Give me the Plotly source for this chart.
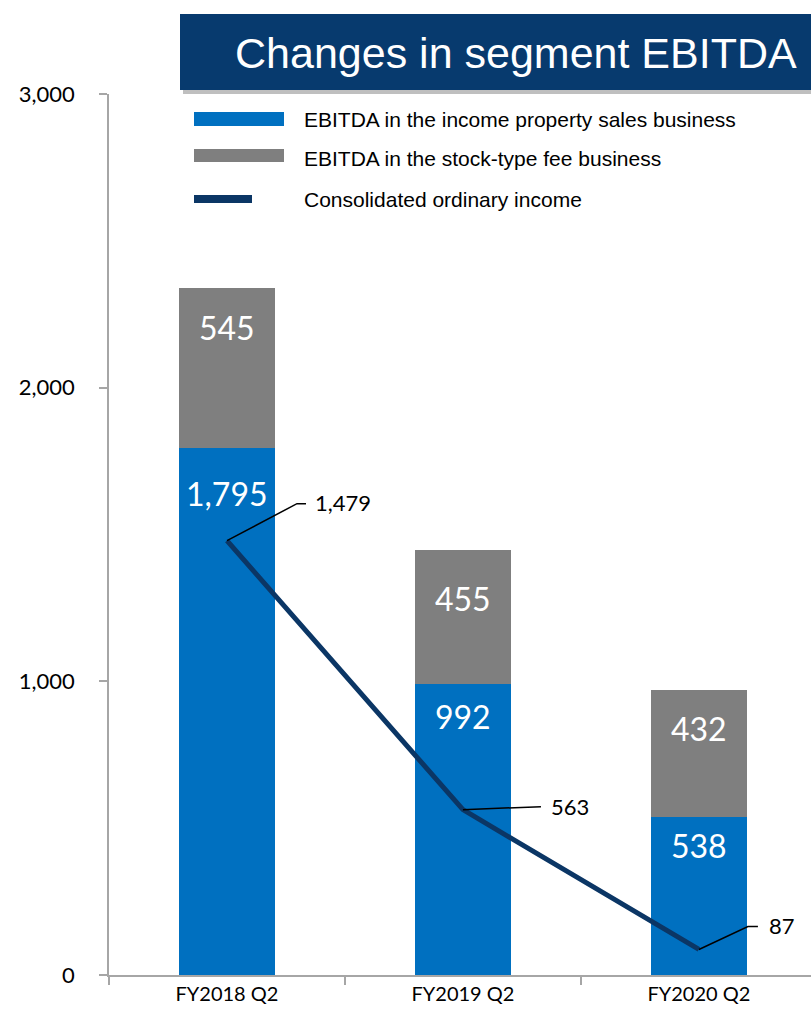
import plotly.graph_objects as go

categories = ["FY2018 Q2", "FY2019 Q2", "FY2020 Q2"]
property_sales = [1795, 992, 538]
stock_fee = [545, 455, 432]
ordinary_income = [1479, 563, 87]
y_ticks = [0, 1000, 2000, 3000]
y_tick_labels = ["0", "1,000", "2,000", "3,000"]
legend_names = ["EBITDA in the income property sales business",
                "EBITDA in the stock-type fee business",
                "Consolidated ordinary income"]
title_text = "Changes in segment EBITDA"

BLUE = "#0070c0"
GRAY = "#7f7f7f"
NAVY = "#0b3665"
TITLE_BG = "#073a6e"

W, H = 811, 1015
ML, MT, MB, MR = 109, 94, 40, 0
PW = W - ML - MR
PH = H - MT - MB


def px(x):
    return (x - ML) / PW


def py(y):
    return (H - MB - y) / PH


def fmt(v):
    return f"{v:,}"


fig = go.Figure()
fig.add_trace(go.Bar(x=categories, y=property_sales, marker_color=BLUE,
                     marker_line_width=0, width=0.41, name=legend_names[0]))
fig.add_trace(go.Bar(x=categories, y=stock_fee, marker_color=GRAY,
                     marker_line_width=0, width=0.41, name=legend_names[1]))
fig.add_trace(go.Scatter(x=categories, y=ordinary_income, mode="lines",
                         line=dict(color=NAVY, width=5), name=legend_names[2]))

annotations = []
shapes = []

# bar value labels (near top of each segment)
blue_shift = [-46, -33, -28]
gray_shift = [-40, -48, -38]
for i, c in enumerate(categories):
    annotations.append(dict(x=c, y=property_sales[i], text=fmt(property_sales[i]),
                            showarrow=False, yshift=blue_shift[i],
                            font=dict(family="Lato", size=32, color="white")))
    annotations.append(dict(x=c, y=property_sales[i] + stock_fee[i], text=fmt(stock_fee[i]),
                            showarrow=False, yshift=gray_shift[i],
                            font=dict(family="Lato", size=32, color="white")))

# leader lines + labels for line values
leaders = [
    ("M0,0 L70,37 L79,37", 86, 38),
    ("M0,0 L78,3", 86, 3),
    ("M0,0 L49,23 L59,23", 68, 24),
]
for i, c in enumerate(categories):
    path, xs, ys = leaders[i]
    shapes.append(dict(type="path", xref="x", yref="y", xsizemode="pixel", ysizemode="pixel",
                       xanchor=c, yanchor=ordinary_income[i], path=path,
                       line=dict(color="black", width=1.5)))
    annotations.append(dict(x=c, y=ordinary_income[i], text=fmt(ordinary_income[i]),
                            showarrow=False, xanchor="left", xshift=xs, yshift=ys,
                            font=dict(family="Lato", size=22, color="black")))

# title box with shadow
shapes.append(dict(type="rect", xref="paper", yref="paper",
                   x0=px(183), x1=px(815), y0=py(94), y1=py(17),
                   fillcolor="rgba(0,0,0,0.25)", line_width=0, layer="above"))
shapes.append(dict(type="rect", xref="paper", yref="paper",
                   x0=px(180), x1=px(815), y0=py(90), y1=py(14),
                   fillcolor=TITLE_BG, line_width=0, layer="above"))
annotations.append(dict(xref="paper", yref="paper", x=px(516), y=py(53), text=title_text,
                        showarrow=False, xanchor="center", yanchor="middle",
                        font=dict(family="Liberation Sans", size=43, color="white")))

# manual legend
leg_rows = [
    (BLUE, 112, 126, 284, 119),
    (GRAY, 149, 162, 284, 158),
    (NAVY, 195, 203, 252, 199),
]
for (col, y0, y1, x1, ty), name in zip(leg_rows, legend_names):
    shapes.append(dict(type="rect", xref="paper", yref="paper",
                       x0=px(194), x1=px(x1), y0=py(y1), y1=py(y0),
                       fillcolor=col, line_width=0))
    annotations.append(dict(xref="paper", yref="paper", x=px(302), y=py(ty), text=name,
                            showarrow=False, xanchor="left", yanchor="middle",
                            font=dict(family="Liberation Sans", size=21, color="black")))

fig.update_layout(
    width=W, height=H,
    margin=dict(l=ML, r=MR, t=MT, b=MB),
    barmode="stack",
    showlegend=False,
    plot_bgcolor="white", paper_bgcolor="white",
    annotations=annotations, shapes=shapes,
    font=dict(family="Lato", size=21, color="black"),
)
fig.update_xaxes(range=[-0.5, 2.475], showline=True, linecolor="#a6a6a6", linewidth=1.5,
                 ticks="outside", tickson="boundaries", ticklen=8, tickcolor="#a6a6a6",
                 tickwidth=1.5, showgrid=False, tickfont=dict(family="Lato", size=20))
fig.update_yaxes(range=[0, 3000], tickvals=y_ticks, ticktext=y_tick_labels,
                 showline=True, linecolor="#a6a6a6", linewidth=1.5,
                 ticks="outside", ticklen=8, tickcolor="#a6a6a6", tickwidth=1.5,
                 showgrid=False, zeroline=False, ticklabelstandoff=20,
                 tickfont=dict(family="Lato", size=22))

fig.write_html("out.html", config={"displayModeBar": False},
               post_script="document.body.style.margin='0';document.body.style.overflow='hidden';")
